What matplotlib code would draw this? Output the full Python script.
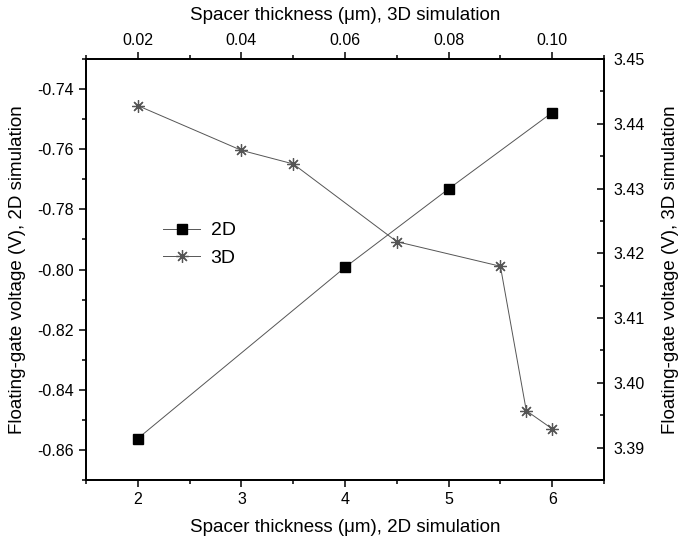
import numpy as np
import matplotlib
matplotlib.use("Agg")
from matplotlib import pyplot as plt
from matplotlib.ticker import MultipleLocator, FormatStrFormatter

plt.rcParams['font.family'] = ['Liberation Sans', 'DejaVu Sans']

# 2D simulation (bottom / left axes)
x2d = [2, 4, 5, 6]
v2d = [-0.8562, -0.7993, -0.7732, -0.7478]

# 3D simulation (top / right axes)
t3d = [0.02, 0.04, 0.05, 0.07, 0.09, 0.095, 0.10]
v3d = [3.4428, 3.4359, 3.4338, 3.4218, 3.418, 3.3957, 3.3929]

fig = plt.figure(figsize=(6.81, 5.44), dpi=100)
ax = fig.add_axes([86/681, 1-480/544, 518/681, 421/544])
ax2 = ax.twinx()
ax3 = ax2.twiny()

l1, = ax.plot(x2d, v2d, color='#555555', lw=0.7, marker='s', ms=7,
              mfc='black', mec='black', label='2D')
l2, = ax3.plot(t3d, v3d, color='#555555', lw=0.7, marker=(8, 2, 0), ms=9,
               mec='#555555', mew=0.9, label='3D')

ax.set_xlim(1.5, 6.5)
ax.set_ylim(-0.87, -0.73)
ax2.set_ylim(3.385, 3.45)
ax3.set_xlim(0.01, 0.11)

ax.xaxis.set_major_locator(MultipleLocator(1))
ax.xaxis.set_minor_locator(MultipleLocator(0.5))
ax.yaxis.set_major_locator(MultipleLocator(0.02))
ax.yaxis.set_minor_locator(MultipleLocator(0.01))
ax.yaxis.set_major_formatter(FormatStrFormatter('%.2f'))
ax2.yaxis.set_major_locator(MultipleLocator(0.01))
ax2.yaxis.set_minor_locator(MultipleLocator(0.005))
ax2.yaxis.set_major_formatter(FormatStrFormatter('%.2f'))
ax3.xaxis.set_major_locator(MultipleLocator(0.02))
ax3.xaxis.set_minor_locator(MultipleLocator(0.01))
ax3.xaxis.set_major_formatter(FormatStrFormatter('%.2f'))

for a in (ax, ax2, ax3):
    for s in a.spines.values():
        s.set_linewidth(1.1)

ax.tick_params(which='major', direction='out', length=5, width=1.1, labelsize=11.5, pad=4)
ax.tick_params(which='minor', direction='out', length=3, width=1.1)
ax2.tick_params(which='major', direction='in', length=5, width=1.1, labelsize=11.5, pad=7)
ax2.tick_params(which='minor', direction='in', length=3, width=1.1)
ax3.tick_params(which='major', direction='out', length=5, width=1.1, labelsize=11.5, pad=3)
ax3.tick_params(which='minor', direction='out', length=3, width=1.1)

ax.set_xlabel('Spacer thickness (μm), 2D simulation', fontsize=13.5, labelpad=8)
ax.set_ylabel('Floating-gate voltage (V), 2D simulation', fontsize=13.5, labelpad=8)
ax2.set_ylabel('Floating-gate voltage (V), 3D simulation', fontsize=13.5, labelpad=12)
ax3.set_xlabel('Spacer thickness (μm), 3D simulation', fontsize=13.5, labelpad=9)

ax3.legend(handles=[l1, l2], loc='upper left', bbox_to_anchor=(0.115, 0.655),
           frameon=False, fontsize=14, handlelength=1.9, labelspacing=0.5,
           handletextpad=0.55)

fig.savefig('out.png', dpi=100)
